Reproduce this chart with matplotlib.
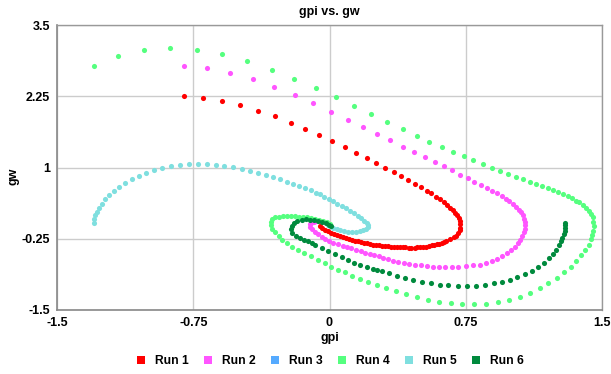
import matplotlib
matplotlib.use("Agg")
import matplotlib.pyplot as plt
from matplotlib.lines import Line2D

# ---------------- data ----------------
run_names = ["Run 1", "Run 2", "Run 3", "Run 4", "Run 5", "Run 6"]
run_colors = ["#ff0000", "#ff55ff", "#55aaff", "#55ff7f", "#7fdfdf", "#008a3d"]

run1_gpi = [-0.80, -0.696, -0.591, -0.492, -0.396, -0.302, -0.214, -0.135, -0.056, 0.015,
            0.084, 0.146, 0.205, 0.258, 0.308,
            0.354, 0.394, 0.433, 0.470, 0.503, 0.534, 0.561, 0.586, 0.608, 0.630,
            0.648, 0.665, 0.680, 0.692, 0.703, 0.713, 0.718, 0.721,
            0.721, 0.718, 0.710, 0.699, 0.685, 0.666, 0.644,
            0.632, 0.619, 0.605, 0.591, 0.576, 0.562, 0.546, 0.531, 0.515, 0.499,
            0.483, 0.468, 0.451, 0.435, 0.418, 0.402, 0.386, 0.371, 0.355, 0.339, 0.322, 0.306,
            0.290, 0.273, 0.256, 0.240, 0.223, 0.207, 0.190, 0.174, 0.157, 0.141,
            0.124, 0.108, 0.091, 0.074, 0.058, 0.041, 0.025, 0.008, -0.008, -0.025, -0.041, -0.052]
run1_gw = [2.256, 2.228, 2.168, 2.093, 2.0, 1.895, 1.789, 1.677, 1.567, 1.461,
           1.356, 1.256, 1.168, 1.081, 1.0,
           0.918, 0.847, 0.777, 0.712, 0.654, 0.596, 0.544, 0.491, 0.439, 0.386,
           0.339, 0.298, 0.251, 0.204, 0.158, 0.111, 0.058, 0.005,
           -0.053, -0.105, -0.153, -0.193, -0.228, -0.263, -0.293,
           -0.308, -0.323, -0.335, -0.346, -0.357, -0.368, -0.377, -0.386, -0.392, -0.398,
           -0.401, -0.404, -0.405, -0.404, -0.401, -0.398, -0.396, -0.393, -0.390, -0.386, -0.384, -0.381,
           -0.375, -0.368, -0.360, -0.351, -0.342, -0.333, -0.323, -0.311, -0.298, -0.284,
           -0.270, -0.254, -0.239, -0.223, -0.205, -0.188, -0.167, -0.144, -0.121, -0.096, -0.065, -0.030]

run2_gpi = [-0.803, -0.672, -0.545, -0.422, -0.304, -0.192, -0.089, 0.008, 0.100, 0.185,
            0.262, 0.334, 0.402, 0.464, 0.523, 0.578, 0.628, 0.676, 0.718, 0.760,
            0.797, 0.832, 0.866, 0.896, 0.922, 0.948, 0.970, 0.990, 1.010, 1.027,
            1.041, 1.055, 1.066, 1.073, 1.077, 1.078, 1.074, 1.071, 1.062, 1.051,
            1.036, 1.019, 0.999, 0.977, 0.951, 0.924, 0.895, 0.862, 0.826, 0.788,
            0.749, 0.710, 0.674, 0.637, 0.602, 0.569, 0.536, 0.503, 0.472, 0.440,
            0.409, 0.379, 0.350, 0.323, 0.295, 0.270, 0.245, 0.221, 0.196, 0.171,
            0.146, 0.121, 0.097, 0.072, 0.047, 0.022, -0.003, -0.025, -0.044, -0.063,
            -0.080, -0.094, -0.105, -0.109, -0.102, -0.088, -0.072, -0.052, -0.033]
run2_gw = [2.789, 2.742, 2.654, 2.544, 2.409, 2.268, 2.123, 1.975, 1.842, 1.712,
           1.584, 1.474, 1.368, 1.268, 1.181, 1.093, 1.023, 0.949, 0.877, 0.812,
           0.747, 0.695, 0.646, 0.596, 0.549, 0.502, 0.449, 0.404, 0.356, 0.309,
           0.263, 0.211, 0.163, 0.105, 0.046, -0.012, -0.077, -0.140, -0.205, -0.270,
           -0.333, -0.393, -0.451, -0.504, -0.556, -0.604, -0.644, -0.679, -0.702, -0.719,
           -0.732, -0.744, -0.749, -0.749, -0.744, -0.737, -0.732, -0.719, -0.709, -0.691,
           -0.674, -0.656, -0.639, -0.609, -0.586, -0.560, -0.542, -0.521, -0.495, -0.468,
           -0.444, -0.419, -0.396, -0.370, -0.346, -0.318, -0.286, -0.254, -0.216, -0.170,
           -0.126, -0.082, -0.039, 0.005, 0.035, 0.051, 0.058, 0.054, 0.044]

run3_gpi = []
run3_gw = []

run4_gpi = [-1.297, -1.163, -1.023, -0.878, -0.732, -0.589, -0.453, -0.319, -0.196, -0.077,
            0.034, 0.135, 0.231, 0.319, 0.402, 0.479, 0.549, 0.617, 0.680, 0.738,
            0.792, 0.845, 0.894, 0.940, 0.985, 1.025, 1.065, 1.101, 1.137, 1.169,
            1.201, 1.230, 1.260, 1.286, 1.312, 1.334, 1.358, 1.376, 1.394, 1.411,
            1.426, 1.438, 1.448, 1.453, 1.455, 1.452, 1.444, 1.437, 1.426, 1.408,
            1.386, 1.358, 1.328, 1.293, 1.253, 1.205, 1.157, 1.104, 1.047, 0.988,
            0.926, 0.862, 0.797, 0.731, 0.668, 0.604, 0.543, 0.481, 0.422, 0.365,
            0.310, 0.260, 0.211, 0.168, 0.122, 0.085, 0.045, 0.008, -0.025, -0.062,
            -0.102, -0.139, -0.172, -0.205, -0.236, -0.259, -0.280, -0.301, -0.314, -0.324,
            -0.324, -0.314, -0.298, -0.279, -0.256, -0.234, -0.212, -0.190, -0.168, -0.146,
            -0.124, -0.102, -0.080, -0.058, -0.036, -0.014, 0.003]
run4_gw = [2.789, 2.958, 3.063, 3.098, 3.070, 2.993, 2.865, 2.719, 2.561, 2.395,
           2.233, 2.075, 1.930, 1.795, 1.672, 1.554, 1.449, 1.356, 1.268, 1.193,
           1.123, 1.058, 0.993, 0.940, 0.888, 0.842, 0.798, 0.751, 0.712, 0.675,
           0.640, 0.607, 0.572, 0.537, 0.496, 0.461, 0.421, 0.386, 0.339, 0.291,
           0.239, 0.181, 0.123, 0.046, -0.035, -0.112, -0.188, -0.263, -0.351, -0.439,
           -0.533, -0.639, -0.744, -0.842, -0.937, -1.030, -1.112, -1.200, -1.270, -1.328,
           -1.363, -1.386, -1.398, -1.398, -1.381, -1.351, -1.323, -1.275, -1.228, -1.175,
           -1.118, -1.070, -1.012, -0.960, -0.902, -0.842, -0.796, -0.737, -0.679, -0.621,
           -0.561, -0.504, -0.451, -0.398, -0.328, -0.267, -0.196, -0.135, -0.074, -0.012,
           0.049, 0.096, 0.128, 0.140, 0.149, 0.151, 0.149, 0.146, 0.140, 0.133,
           0.125, 0.114, 0.102, 0.084, 0.061, 0.037, 0.014]

run5_gpi = [-1.297, -1.295, -1.290, -1.281, -1.270, -1.253, -1.234, -1.212, -1.187, -1.157,
            -1.124, -1.089, -1.051, -1.008, -0.964, -0.920, -0.873, -0.825, -0.775, -0.725,
            -0.676, -0.626, -0.578, -0.531, -0.483, -0.437, -0.393, -0.350, -0.310, -0.273,
            -0.236, -0.201, -0.167, -0.135, -0.104, -0.076, -0.052, -0.029, -0.004, 0.021,
            0.044, 0.067, 0.091, 0.113, 0.135, 0.156, 0.174, 0.192, 0.204, 0.212,
            0.210, 0.201, 0.186, 0.168, 0.146, 0.124, 0.102, 0.080, 0.058, 0.039,
            0.019, 0.003, -0.011]
run5_gw = [0.028, 0.088, 0.158, 0.228, 0.298, 0.368, 0.444, 0.519, 0.589, 0.660,
           0.730, 0.795, 0.853, 0.905, 0.953, 0.993, 1.023, 1.040, 1.053, 1.058,
           1.053, 1.040, 1.028, 1.002, 0.972, 0.939, 0.900, 0.870, 0.830, 0.795,
           0.747, 0.712, 0.677, 0.640, 0.607, 0.561, 0.528, 0.491, 0.451, 0.409,
           0.368, 0.326, 0.282, 0.239, 0.195, 0.151, 0.111, 0.070, 0.028, -0.012,
           -0.047, -0.077, -0.100, -0.118, -0.128, -0.132, -0.128, -0.119, -0.104, -0.082,
           -0.060, -0.035, -0.012]

run6_gpi = [1.299, 1.299, 1.299, 1.295, 1.290, 1.282, 1.273, 1.262, 1.248, 1.229,
            1.207, 1.181, 1.150, 1.115, 1.077, 1.034, 0.994, 0.948, 0.903, 0.854,
            0.804, 0.755, 0.705, 0.655, 0.606, 0.558, 0.509, 0.462, 0.416, 0.371,
            0.327, 0.288, 0.262, 0.238, 0.205, 0.170, 0.137, 0.104, 0.067, 0.030,
            -0.007, -0.043, -0.080, -0.098, -0.117, -0.141, -0.163, -0.185, -0.204, -0.210,
            -0.207, -0.196, -0.177, -0.154, -0.132, -0.110, -0.088, -0.066, -0.044, -0.022,
            -0.003, 0.011]
run6_gw = [0.035, -0.012, -0.060, -0.112, -0.170, -0.235, -0.298, -0.368, -0.439, -0.516,
           -0.591, -0.667, -0.744, -0.814, -0.872, -0.925, -0.965, -1.007, -1.035, -1.060,
           -1.077, -1.082, -1.082, -1.070, -1.053, -1.035, -1.007, -0.972, -0.937, -0.895,
           -0.849, -0.814, -0.800, -0.784, -0.749, -0.709, -0.667, -0.621, -0.568, -0.516,
           -0.463, -0.416, -0.358, -0.328, -0.298, -0.272, -0.240, -0.196, -0.144, -0.082,
           -0.021, 0.032, 0.070, 0.084, 0.088, 0.086, 0.079, 0.067, 0.047, 0.023,
           -0.004, -0.030]

x_ticks = [-1.5, -0.75, 0, 0.75, 1.5]
x_tick_labels = ["-1.5", "-0.75", "0", "0.75", "1.5"]
y_ticks = [-1.5, -0.25, 1, 2.25, 3.5]
y_tick_labels = ["-1.5", "-0.25", "1", "2.25", "3.5"]

# ---------------- figure ----------------
plt.rcParams["font.family"] = ["Liberation Sans", "DejaVu Sans"]
W, H = 611, 374
fig = plt.figure(figsize=(W / 100, H / 100), dpi=100)
L, R, T, B = 57, 602, 25, 310
ax = fig.add_axes([L / W, 1 - B / H, (R - L) / W, (B - T) / H])

series = [(run1_gpi, run1_gw), (run2_gpi, run2_gw), (run3_gpi, run3_gw),
          (run4_gpi, run4_gw), (run5_gpi, run5_gw), (run6_gpi, run6_gw)]
for i, ((xs, ys), c) in enumerate(zip(series, run_colors)):
    ax.plot(xs, ys, linestyle="none", marker="o", markersize=3.7,
            markeredgewidth=0, color=c, zorder=3 + i)

ax.set_xlim(-1.5, 1.5)
ax.set_ylim(-1.5, 3.5)
ax.set_xticks(x_ticks)
ax.set_xticklabels(x_tick_labels)
ax.set_yticks(y_ticks)
ax.set_yticklabels(y_tick_labels)
ax.tick_params(length=0, labelsize=9, pad=5)
for lab in ax.get_xticklabels() + ax.get_yticklabels():
    lab.set_fontweight("bold")
ax.grid(True, color="#cccccc", linewidth=1)
ax.set_axisbelow(True)
for s in ["left", "bottom"]:
    ax.spines[s].set_color("#888888")
    ax.spines[s].set_linewidth(1.2)
for s in ["top", "right"]:
    ax.spines[s].set_color("#999999")
    ax.spines[s].set_linewidth(1.0)

cx = (L + R) / 2 / W
fig.text(cx, 1 - 12 / H, "gpi vs. gw", ha="center", va="center",
         fontsize=9, fontweight="bold")
fig.text(cx, 1 - 338 / H, "gpi", ha="center", va="center",
         fontsize=9, fontweight="bold")
fig.text(13 / W, 1 - 176 / H, "gw", ha="center", va="center",
         rotation=90, fontsize=9, fontweight="bold")

handles = [Line2D([], [], linestyle="none", marker="s", markersize=6.2,
                  markeredgewidth=0, color=c) for c in run_colors]
leg = fig.legend(handles, run_names, loc="center", ncol=6,
                 bbox_to_anchor=(330 / W, 1 - 361 / H), frameon=False,
                 prop={"size": 8.7, "weight": "bold"},
                 handlelength=0.8, handletextpad=0.8, columnspacing=1.15)

fig.savefig("out.png", dpi=100)
